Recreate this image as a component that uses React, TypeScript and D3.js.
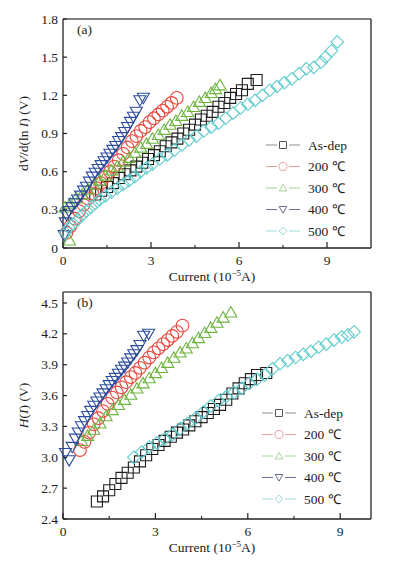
import React from "react";
import * as d3 from "d3";

// panel (a): dV/d(lnI) vs current
const asDepXA = [1.1, 1.3, 1.5, 1.7, 1.9, 2.1, 2.3, 2.5, 2.7, 2.9, 3.1, 3.3, 3.5, 3.7, 3.9, 4.1, 4.3, 4.5, 4.7, 4.9, 5.1, 5.3, 5.5, 5.7, 5.9, 6.1, 6.3, 6.6];
const asDepYA = [0.42, 0.45, 0.48, 0.51, 0.55, 0.58, 0.61, 0.64, 0.67, 0.7, 0.73, 0.76, 0.8, 0.83, 0.86, 0.9, 0.93, 0.97, 1.01, 1.04, 1.07, 1.11, 1.14, 1.18, 1.21, 1.24, 1.29, 1.32];
const t200XA = [0.12, 0.25, 0.4, 0.55, 0.7, 0.85, 1.0, 1.15, 1.3, 1.45, 1.6, 1.75, 1.9, 2.05, 2.2, 2.35, 2.5, 2.65, 2.8, 2.95, 3.1, 3.25, 3.4, 3.55, 3.7, 3.88];
const t200YA = [0.12, 0.17, 0.23, 0.29, 0.34, 0.39, 0.43, 0.47, 0.51, 0.56, 0.6, 0.64, 0.69, 0.74, 0.79, 0.84, 0.88, 0.92, 0.95, 0.99, 1.02, 1.05, 1.08, 1.11, 1.14, 1.18];
const t300XA = [0.22, 0.07, 0.25, 0.45, 0.65, 0.85, 1.05, 1.25, 1.45, 1.65, 1.85, 2.05, 2.25, 2.45, 2.65, 2.85, 3.05, 3.25, 3.45, 3.65, 3.85, 4.05, 4.25, 4.45, 4.65, 4.85, 5.05, 5.2, 5.35];
const t300YA = [0.06, 0.32, 0.35, 0.39, 0.42, 0.46, 0.5, 0.53, 0.57, 0.61, 0.64, 0.68, 0.71, 0.75, 0.79, 0.82, 0.86, 0.89, 0.93, 0.97, 1.0, 1.04, 1.07, 1.11, 1.15, 1.18, 1.22, 1.25, 1.28];
const t400XA = [0.04, 0.08, 0.12, 0.2, 0.3, 0.4, 0.5, 0.6, 0.7, 0.8, 0.9, 1.0, 1.1, 1.2, 1.3, 1.4, 1.5, 1.6, 1.7, 1.8, 1.9, 2.0, 2.1, 2.2, 2.3, 2.4, 2.5, 2.62, 2.74];
const t400YA = [0.1, 0.2, 0.26, 0.29, 0.32, 0.35, 0.38, 0.41, 0.45, 0.48, 0.52, 0.56, 0.59, 0.62, 0.65, 0.68, 0.71, 0.74, 0.77, 0.8, 0.84, 0.87, 0.91, 0.95, 0.99, 1.03, 1.07, 1.16, 1.18];
const t500XA = [0.08, 0.2, 0.35, 0.5, 0.65, 0.8, 0.95, 1.1, 1.25, 1.45, 1.65, 1.85, 2.05, 2.25, 2.45, 2.65, 2.85, 3.05, 3.3, 3.55, 3.8, 4.05, 4.3, 4.55, 4.8, 5.05, 5.3, 5.55, 5.8, 6.05, 6.3, 6.55, 6.8, 7.05, 7.3, 7.55, 7.8, 8.05, 8.3, 8.55, 8.8, 8.95, 9.15, 9.35];
const t500YA = [0.12, 0.16, 0.19, 0.22, 0.26, 0.29, 0.32, 0.35, 0.38, 0.41, 0.44, 0.47, 0.5, 0.53, 0.56, 0.6, 0.63, 0.66, 0.7, 0.73, 0.77, 0.81, 0.85, 0.88, 0.92, 0.95, 0.98, 1.02, 1.06, 1.1, 1.13, 1.16, 1.2, 1.24, 1.27, 1.3, 1.33, 1.37, 1.41, 1.42, 1.46, 1.5, 1.55, 1.62];

// panel (b): H(I) vs current
const asDepXB = [1.1, 1.3, 1.5, 1.7, 1.9, 2.1, 2.3, 2.5, 2.7, 2.9, 3.1, 3.3, 3.5, 3.7, 3.9, 4.1, 4.3, 4.5, 4.7, 4.9, 5.1, 5.3, 5.5, 5.7, 5.9, 6.1, 6.3, 6.6];
const asDepYB = [2.57, 2.62, 2.68, 2.74, 2.8, 2.85, 2.9, 2.96, 3.02, 3.08, 3.12, 3.16, 3.2, 3.24, 3.27, 3.31, 3.35, 3.39, 3.43, 3.47, 3.51, 3.56, 3.62, 3.67, 3.72, 3.76, 3.8, 3.82];
const t200XB = [0.55, 0.7, 0.85, 1.0, 1.15, 1.3, 1.45, 1.6, 1.75, 1.9, 2.05, 2.2, 2.35, 2.5, 2.65, 2.8, 2.95, 3.1, 3.25, 3.4, 3.55, 3.7, 3.88];
const t200YB = [3.07, 3.15, 3.24, 3.32, 3.38, 3.45, 3.52, 3.58, 3.63, 3.68, 3.73, 3.78, 3.82, 3.87, 3.92, 3.97, 4.02, 4.06, 4.1, 4.14, 4.18, 4.22, 4.28];
const t300XB = [0.6, 0.8, 1.0, 1.2, 1.4, 1.6, 1.8, 2.0, 2.2, 2.4, 2.6, 2.8, 3.0, 3.2, 3.4, 3.6, 3.8, 4.0, 4.2, 4.4, 4.6, 4.8, 5.0, 5.2, 5.45];
const t300YB = [3.16, 3.21, 3.27, 3.33, 3.4, 3.46, 3.51, 3.56, 3.61, 3.67, 3.72, 3.77, 3.82, 3.87, 3.92, 3.97, 4.02, 4.06, 4.11, 4.16, 4.21, 4.26, 4.31, 4.36, 4.41];
const t400XB = [0.08, 0.2, 0.3, 0.4, 0.5, 0.6, 0.7, 0.8, 0.9, 1.0, 1.1, 1.2, 1.3, 1.4, 1.5, 1.6, 1.7, 1.8, 1.9, 2.0, 2.1, 2.2, 2.3, 2.4, 2.5, 2.62, 2.78];
const t400YB = [3.04, 2.97, 3.1, 3.18, 3.24, 3.3, 3.35, 3.4, 3.45, 3.5, 3.54, 3.58, 3.62, 3.66, 3.7, 3.74, 3.77, 3.81, 3.85, 3.88, 3.92, 3.96, 4.0, 4.04, 4.09, 4.18, 4.2];
const t500XB = [2.3, 2.55, 2.8, 3.05, 3.3, 3.55, 3.8, 4.05, 4.3, 4.55, 4.8, 5.05, 5.3, 5.55, 5.8, 6.05, 6.3, 6.55, 6.8, 7.05, 7.3, 7.55, 7.8, 8.05, 8.3, 8.55, 8.8, 9.05, 9.25, 9.45];
const t500YB = [3.0, 3.05, 3.1, 3.14, 3.18, 3.22, 3.28, 3.33, 3.38, 3.44, 3.5, 3.55, 3.59, 3.63, 3.67, 3.72, 3.76, 3.8, 3.86, 3.91, 3.94, 3.97, 4.0, 4.03, 4.07, 4.1, 4.14, 4.17, 4.19, 4.22];

const seriesNames = ["As-dep", "200 ℃", "300 ℃", "400 ℃", "500 ℃"];
const markerKinds = ["square", "circle", "triUp", "triDown", "diamond"];
const markerColors = ["#1c1c1c", "#e8463c", "#6cb43e", "#2d4c9c", "#62cccc"];
const legendLineColors = ["#8f8f8f", "#e6a0a0", "#a6d29a", "#6a7090", "#9fdcdc"];

const xTicksA = [0, 3, 6, 9];
const yTicksA = [0, 0.3, 0.6, 0.9, 1.2, 1.5, 1.8];
const xTicksB = [0, 3, 6, 9];
const yTicksB = [2.4, 2.7, 3.0, 3.3, 3.6, 3.9, 4.2, 4.5];

const FONT = "'Liberation Serif', 'Times New Roman', serif";

function markerPath(kind: string, s: number) {
  const h = s / 2;
  switch (kind) {
    case "square":
      return `M${-h},${-h}H${h}V${h}H${-h}Z`;
    case "triUp":
      return `M0,${-h * 1.05}L${h * 1.1},${h * 0.85}L${-h * 1.1},${h * 0.85}Z`;
    case "triDown":
      return `M0,${h * 1.05}L${h * 1.1},${-h * 0.85}L${-h * 1.1},${-h * 0.85}Z`;
    case "diamond":
      return `M0,${-h * 1.15}L${h * 1.15},0L0,${h * 1.15}L${-h * 1.15},0Z`;
    default:
      return d3.arc()({ innerRadius: 0, outerRadius: h * 1.15, startAngle: 0, endAngle: 2 * Math.PI }) as string;
  }
}

interface PanelProps {
  top: number;
  bottom: number;
  xMax: number;
  yDomain: [number, number];
  xTicks: number[];
  yTicks: number[];
  xs: number[][];
  ys: number[][];
  tag: string;
  yTitle: React.ReactNode;
  legendTop: number;
  legendX: number;
}

const Panel: React.FC<PanelProps> = (p) => {
  const left = 63;
  const right = 371;
  const x = d3.scaleLinear().domain([0, p.xMax]).range([left, right]);
  const y = d3.scaleLinear().domain(p.yDomain).range([p.bottom, p.top]);
  const minor = d3.range(1.5, p.xMax, 3);
  const drawOrder = [0, 1, 2, 3, 4];

  return (
    <g fontFamily={FONT} fill="#1a1a1a">
      {/* frame */}
      <line x1={left} x2={right} y1={p.top} y2={p.top} stroke="#555" strokeWidth={1.6} />
      <line x1={right} x2={right} y1={p.top} y2={p.bottom} stroke="#222" strokeWidth={1.3} />
      <line x1={left} x2={left} y1={p.top} y2={p.bottom} stroke="#222" strokeWidth={1.3} />
      <line x1={left} x2={right} y1={p.bottom} y2={p.bottom} stroke="#222" strokeWidth={1.3} />

      {/* markers */}
      {drawOrder.map((i) => (
        <g key={i} fill="none" stroke={markerColors[i]} strokeWidth={1.1}>
          {p.xs[i].map((v, j) => (
            <path key={j} transform={`translate(${x(v)},${y(p.ys[i][j])})`} d={markerPath(markerKinds[i], 11)} />
          ))}
        </g>
      ))}

      {/* x ticks */}
      {p.xTicks.map((t) => (
        <g key={t}>
          <line x1={x(t)} x2={x(t)} y1={p.bottom} y2={p.bottom - 6} stroke="#222" strokeWidth={1.2} />
          <text x={x(t)} y={p.bottom + 17} textAnchor="middle" fontSize={13.5}>
            {t}
          </text>
        </g>
      ))}
      {minor.map((t) => (
        <line key={t} x1={x(t)} x2={x(t)} y1={p.bottom} y2={p.bottom - 3} stroke="#222" strokeWidth={1.1} />
      ))}

      {/* y ticks */}
      {p.yTicks.map((t) => (
        <g key={t}>
          <line x1={left} x2={left + 4} y1={y(t)} y2={y(t)} stroke="#222" strokeWidth={1.2} />
          <text x={left - 5} y={y(t) + 4.5} textAnchor="end" fontSize={13.5}>
            {d3.format(t === 0 ? "d" : ".1f")(t)}
          </text>
        </g>
      ))}

      <text x={77} y={p.top + 15} fontSize={13.5}>
        {p.tag}
      </text>

      <text x={212} y={p.bottom + 33} textAnchor="middle" fontSize={13.5}>
        Current (10<tspan baselineShift="super" fontSize={9}>−5</tspan>A)
      </text>

      <text transform={`translate(28,${(p.top + p.bottom) / 2}) rotate(-90)`} textAnchor="middle" fontSize={13.5}>
        {p.yTitle}
      </text>

      {/* legend */}
      {seriesNames.map((name, i) => {
        const ly = p.legendTop + i * 21.5;
        const lx = p.legendX;
        return (
          <g key={name}>
            <line x1={lx} x2={lx + 34} y1={ly} y2={ly} stroke={legendLineColors[i]} strokeWidth={1.1} />
            <rect x={lx + 11} y={ly - 5} width={12} height={10} fill="#fff" />
            <path
              transform={`translate(${lx + 17},${ly})`}
              d={markerPath(markerKinds[i], 7)}
              fill="none"
              stroke={i === 0 ? "#555" : legendLineColors[i]}
              strokeWidth={1}
            />
            <text x={lx + 42} y={ly + 4.5} fontSize={13.5}>
              {name}
            </text>
          </g>
        );
      })}
    </g>
  );
};

export default function App() {
  return (
    <svg width={395} height={566} style={{ position: "absolute", left: 0, top: 0, background: "#fff" }}>
      <rect width={395} height={566} fill="#fff" />
      <Panel
        top={19}
        bottom={248}
        xMax={10.5}
        yDomain={[0, 1.8]}
        xTicks={xTicksA}
        yTicks={yTicksA}
        xs={[asDepXA, t200XA, t300XA, t400XA, t500XA]}
        ys={[asDepYA, t200YA, t300YA, t400YA, t500YA]}
        tag="(a)"
        yTitle={
          <>
            d<tspan fontStyle="italic">V</tspan>/d(ln <tspan fontStyle="italic">I</tspan>) (V)
          </>
        }
        legendTop={145}
        legendX={266}
      />
      <Panel
        top={292}
        bottom={519}
        xMax={10}
        yDomain={[2.4, 4.607]}
        xTicks={xTicksB}
        yTicks={yTicksB}
        xs={[asDepXB, t200XB, t300XB, t400XB, t500XB]}
        ys={[asDepYB, t200YB, t300YB, t400YB, t500YB]}
        tag="(b)"
        yTitle={
          <>
            <tspan fontStyle="italic">H</tspan>(<tspan fontStyle="italic">I</tspan>) (V)
          </>
        }
        legendTop={413}
        legendX={262}
      />
    </svg>
  );
}
